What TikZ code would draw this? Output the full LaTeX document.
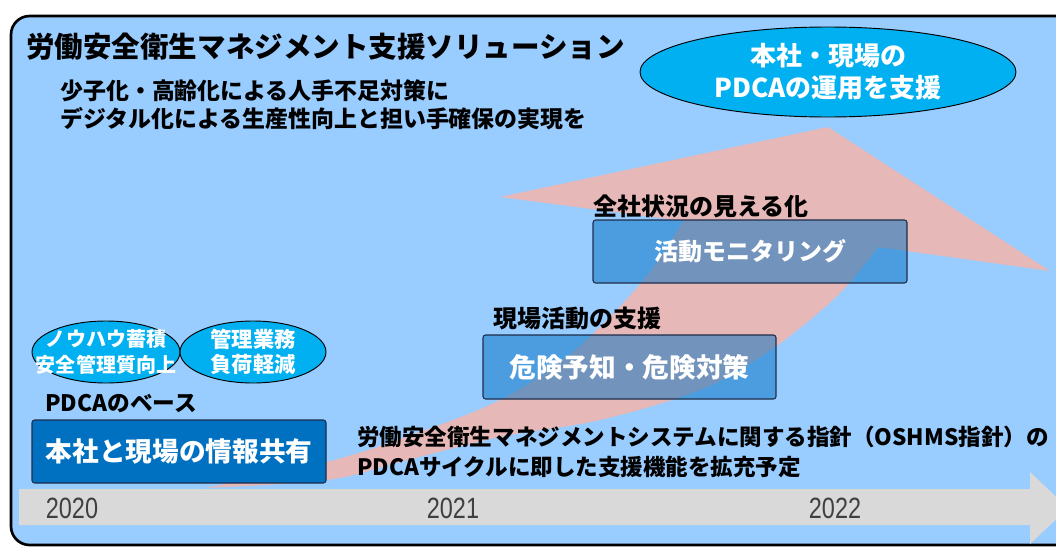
\documentclass[tikz,border=0pt]{standalone}
\usepackage{fontspec}
\setmainfont{Noto Sans CJK JP}
\newfontfamily\yearfont[FakeStretch=0.8]{Liberation Sans}
\usetikzlibrary{shapes.geometric}
\definecolor{bgblue}{HTML}{99CCFF}
\definecolor{pinkarrow}{HTML}{E6B8B7}
\definecolor{cyanell}{HTML}{00B0F0}
\definecolor{boxblue}{HTML}{0070C0}
\definecolor{boxedge}{HTML}{1F2D4A}
\definecolor{bandgray}{HTML}{D9D9D9}
\definecolor{yeargray}{HTML}{404040}
\tikzset{
  heading/.style={anchor=west, inner sep=0pt, text=black, font=\bfseries\fontsize{18}{22}\selectfont},
  bluebox/.style={draw=boxedge, line width=0.8pt, rounded corners=2pt, text=white, inner sep=0pt,
     font=\bfseries\fontsize{20}{24}\selectfont},
  solidbox/.style={bluebox, fill=boxblue},
  glassbox/.style={bluebox, fill=boxblue, fill opacity=0.5, text opacity=1},
  cyanoval/.style={ellipse, draw=black, line width=0.7pt, fill=cyanell, inner sep=0pt},
  ovaltext/.style={text=white, align=center, inner sep=0pt},
  yearlbl/.style={text=yeargray, inner sep=0pt, font=\yearfont\fontsize{22}{22}\selectfont},
}
\begin{document}
\begin{tikzpicture}[x=0.75pt,y=-0.75pt]
\useasboundingbox (0,0) rectangle (1056,546);
\clip (0,0) rectangle (1056,546);
% background panel
\draw[fill=bgblue, line width=2pt, rounded corners=14pt] (11,16) rectangle (1100,545);
% pink growth arrow
\fill[pinkarrow] plot[smooth, tension=0.6] coordinates {(205,488) (327,462) (420,432) (500,400) (560,362) (600,327) (635,290) (660,258) (683,221)}
  -- (500,197) -- (828,127) -- (1050,271) -- (878,247)
  -- plot[smooth, tension=0.6] coordinates {(878,247) (843,290) (800,328) (760,357) (700,390) (600,420) (500,437) (400,462) (327,480) (205,488)} -- cycle;
% timeline arrow
\fill[bandgray] (19,489) -- (1030,489) -- (1030,472) -- (1068,508) -- (1030,544) -- (1030,525) -- (19,525) -- cycle;
\node[yearlbl] (y2020) at (72,508) {2020};
\node[yearlbl] (y2021) at (453,508) {2021};
\node[yearlbl] (y2022) at (835,508) {2022};
% title and subtitle
\node[anchor=west, inner sep=0pt, font=\bfseries\fontsize{21.4}{24}\selectfont] (title) at (26,47) {労働安全衛生マネジメント支援ソリューション};
\node[anchor=west, inner sep=0pt, align=left, font=\bfseries\fontsize{17.2}{21}\selectfont] (sub) at (60,105)
  {少子化・高齢化による人手不足対策に\\デジタル化による生産性向上と担い手確保の実現を};
% top oval
\node[cyanoval, minimum width=282pt, minimum height=67.5pt] (goal) at (828,72) {};
\node[ovaltext, font=\bfseries\fontsize{19.5}{24}\selectfont] (goalt) at (goal) {本社・現場の\\PDCAの運用を支援};
% small ovals
\node[cyanoval, minimum width=111pt, minimum height=46.5pt] (know) at (106,352) {};
\node[ovaltext, font=\bfseries\fontsize{15}{19}\selectfont] (knowt) at (know) {ノウハウ蓄積\\安全管理質向上};
\node[cyanoval, minimum width=109.5pt, minimum height=46.5pt] (load) at (253,352) {};
\node[ovaltext, font=\bfseries\fontsize{16}{19}\selectfont] (loadt) at (load) {管理業務\\負荷軽減};
% headings
\node[heading, font=\bfseries\fontsize{17}{20}\selectfont] (base) at (45,404) {PDCAのベース};
\node[heading] (site) at (493,318) {現場活動の支援};
\node[heading] (whole) at (593,206) {全社状況の見える化};
% boxes
\node[solidbox, minimum width=220.5pt, minimum height=47.25pt] (share) at (179,451.5) {本社と現場の情報共有};
\node[glassbox, minimum width=219.75pt, minimum height=48pt] (danger) at (629.5,367) {危険予知・危険対策};
\node[glassbox, minimum width=235.5pt, minimum height=47.25pt, font=\bfseries\fontsize{18}{22}\selectfont] (monitor) at (750,251.5) {活動モニタリング};
% bottom note
\node[anchor=west, inner sep=0pt, align=left, font=\bfseries\fontsize{16.9}{22.5}\selectfont] (note) at (357,452)
  {労働安全衛生マネジメントシステムに関する指針（OSHMS指針）の\\PDCAサイクルに即した支援機能を拡充予定};
\end{tikzpicture}
\end{document}
